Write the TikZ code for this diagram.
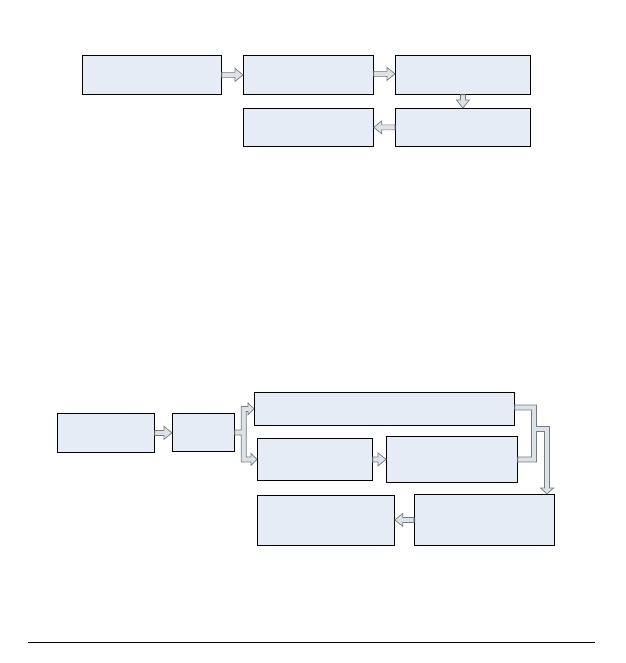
\documentclass[tikz,border=0pt]{standalone}
\usetikzlibrary{calc}
\definecolor{boxfill}{HTML}{E5ECF6}
\definecolor{arrfill}{HTML}{DCE2EA}
\definecolor{arredge}{HTML}{7A7A7A}
\tikzset{
  box/.style={draw=black, line width=0.8pt, fill=boxfill, inner sep=0pt, anchor=north west},
  blockarr/.style={draw=arredge, line width=0.7pt, fill=arrfill, line join=miter},
}
% right-pointing block arrow from #1 to #2 (y of #1)
\newcommand\arrR[2]{\draw[blockarr] let \p1=(#1), \p2=(#2) in
  (\x1,{\y1+2.5pt}) -- ({\x2-8pt},{\y1+2.5pt}) -- ({\x2-8pt},{\y1+6.5pt}) -- (\x2,\y1)
  -- ({\x2-8pt},{\y1-6.5pt}) -- ({\x2-8pt},{\y1-2.5pt}) -- (\x1,{\y1-2.5pt}) -- cycle;}
\newcommand\arrL[2]{\draw[blockarr] let \p1=(#1), \p2=(#2) in
  (\x1,{\y1+2.5pt}) -- ({\x2+8pt},{\y1+2.5pt}) -- ({\x2+8pt},{\y1+6.5pt}) -- (\x2,\y1)
  -- ({\x2+8pt},{\y1-6.5pt}) -- ({\x2+8pt},{\y1-2.5pt}) -- (\x1,{\y1-2.5pt}) -- cycle;}
\newcommand\arrD[2]{\draw[blockarr] let \p1=(#1), \p2=(#2) in
  ({\x1-2.5pt},\y1) -- ({\x1-2.5pt},{\y2+8pt}) -- ({\x1-6.5pt},{\y2+8pt}) -- (\x1,\y2)
  -- ({\x1+6.5pt},{\y2+8pt}) -- ({\x1+2.5pt},{\y2+8pt}) -- ({\x1+2.5pt},\y1) -- cycle;}
\begin{document}
\begin{tikzpicture}[x=1pt,y=-1pt]
\useasboundingbox (0,0) rectangle (625,663);
% top section
\node[box, minimum width=139pt, minimum height=39pt] (A) at (82,55) {};
\node[box, minimum width=130pt, minimum height=39pt] (B) at (243,55) {};
\node[box, minimum width=135pt, minimum height=39pt] (C) at (395,55) {};
\node[box, minimum width=130pt, minimum height=38pt] (D) at (243,108) {};
\node[box, minimum width=135pt, minimum height=38pt] (E) at (395,108) {};
\arrR{A.east}{B.west}
\arrR{$(B.east)+(0,-1)$}{C.west}
\arrD{C.south}{E.north}
\arrL{E.west}{D.east}
% bottom section
\node[box, minimum width=97pt, minimum height=39pt] (F) at (57,413) {};
\node[box, minimum width=62pt, minimum height=38pt] (G) at (172,413) {};
\node[box, minimum width=260pt, minimum height=33pt] (H) at (254,392) {};
\node[box, minimum width=115pt, minimum height=42pt] (I) at (257,438) {};
\node[box, minimum width=131pt, minimum height=46pt] (J) at (386,436) {};
\node[box, minimum width=140pt, minimum height=51pt] (K) at (414,494) {};
\node[box, minimum width=137pt, minimum height=50pt] (L) at (257,495) {};
\arrR{F.east}{G.west}
\arrR{I.east}{J.west}
\arrL{K.west}{L.east}
% fork G -> H, I
\draw[blockarr] let \p1=(G.east), \p2=(H.west), \p3=(I.west) in
  (\x1,{\y1+2.5pt}) -- ({\x1+6.5pt},{\y1+2.5pt}) -- ({\x1+6.5pt},{\y2+2.5pt})
  -- ({\x2-6pt},{\y2+2.5pt}) -- ({\x2-6pt},{\y2+6pt}) -- (\x2,\y2) -- ({\x2-6pt},{\y2-6pt})
  -- ({\x2-6pt},{\y2-2.5pt}) -- ({\x1+11.5pt},{\y2-2.5pt})
  -- ({\x1+11.5pt},{\y3+2.5pt}) -- ({\x3-6pt},{\y3+2.5pt}) -- ({\x3-6pt},{\y3+6pt})
  -- (\x3,\y3) -- ({\x3-6pt},{\y3-6pt}) -- ({\x3-6pt},{\y3-2.5pt})
  -- ({\x1+6.5pt},{\y3-2.5pt}) -- ({\x1+6.5pt},{\y1-2.5pt}) -- (\x1,{\y1-2.5pt}) -- cycle;
% merge H, J -> K
\coordinate (hs) at ($(H.east)+(0,-1.5)$);
\coordinate (js) at (J.east);
\coordinate (kt) at (547,494);
\draw[blockarr] let \p1=(hs), \p2=(js), \p3=(kt) in
  (\x1,{\y1+2.5pt}) -- (536.5pt,{\y1+2.5pt}) -- (536.5pt,-426.5pt) -- ({\x3+2.5pt},-426.5pt)
  -- ({\x3+2.5pt},{\y3+6pt}) -- ({\x3+6.5pt},{\y3+6pt}) -- (\x3,\y3) -- ({\x3-6.5pt},{\y3+6pt})
  -- ({\x3-2.5pt},{\y3+6pt}) -- ({\x3-2.5pt},-431.5pt) -- (536.5pt,-431.5pt)
  -- (536.5pt,{\y2-2.5pt}) -- (\x2,{\y2-2.5pt}) -- (\x2,{\y2+2.5pt}) -- (531.5pt,{\y2+2.5pt})
  -- (531.5pt,{\y1-2.5pt}) -- (\x1,{\y1-2.5pt}) -- cycle;
% bottom rule
\coordinate (r1) at (28,642);
\coordinate (r2) at (595,642);
\draw[line width=1pt] (r1) -- (r2);
\end{tikzpicture}
\end{document}
